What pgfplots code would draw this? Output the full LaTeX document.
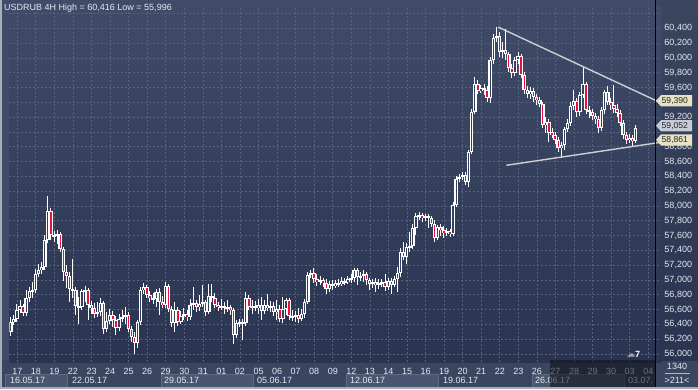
\documentclass[border=0pt]{standalone}
\usepackage{fontspec}
\setmainfont{Liberation Sans}
\usepackage{pgfplots}
\pgfplotsset{compat=1.18}
\usepackage{pgfplotstable}
\definecolor{bgtop}{HTML}{3F4B67}
\definecolor{bgbot}{HTML}{2A3450}
\definecolor{band}{HTML}{3A4560}
\definecolor{boxfill}{HTML}{4A5570}
\definecolor{boxline}{HTML}{5E6984}
\definecolor{gridc}{HTML}{56627E}
\definecolor{txt}{HTML}{E4E8F0}
\definecolor{candred}{HTML}{E8103C}
\definecolor{candin}{HTML}{34405C}
\definecolor{beige}{HTML}{E6E2C4}
\definecolor{callgray}{HTML}{C8CCD6}
\definecolor{framec}{HTML}{A8AEB8}
\definecolor{trend}{HTML}{CFCFD2}
\newcommand\fs{\fontsize{9bp}{10bp}\selectfont}
\pgfplotsset{candle/.style={only marks, mark=*, mark size=0.01pt, mark options={opacity=0},
  error bars/.cd, y dir=both, y explicit, error mark=none}}

\pgfplotstableread{
i o h l c
0 56293 56495 56239 56428
1 56428 56522 56387 56468
2 56468 56671 56428 56590
3 56590 56725 56549 56644
4 56644 56671 56509 56549
5 56549 56860 56509 56752
6 56752 56901 56698 56847
7 56847 56968 56752 56860
8 56860 57144 56820 57076
9 57076 57211 57036 57130
10 57130 57238 57076 57171
11 57171 57603 57130 57536
12 57536 58130 57495 57927
13 57927 57968 57536 57603
14 57603 57657 57509 57590
15 57590 57671 57482 57617
16 57617 57644 57373 57414
17 57414 57441 56982 57103
18 57103 57198 56887 57049
19 57049 57103 56698 56874
20 56874 57279 56752 56860
21 56860 56901 56522 56644
22 56644 56766 56401 56630
23 56630 56874 56590 56847
24 56847 56914 56698 56860
25 56860 56887 56455 56658
26 56658 56712 56536 56617
27 56617 56685 56482 56536
28 56536 56698 56495 56563
29 56563 56752 56509 56685
30 56685 56712 56266 56333
31 56333 56563 56293 56441
32 56441 56603 56401 56522
33 56522 56576 56360 56455
34 56455 56509 56252 56347
35 56347 56536 56306 56468
36 56468 56590 56428 56495
37 56495 56630 56401 56522
38 56522 56563 56293 56333
39 56333 56374 56158 56225
40 56225 56293 55996 56144
41 56144 56455 56077 56428
42 56428 56901 56387 56860
43 56860 56955 56806 56901
44 56901 56928 56752 56793
45 56793 56847 56698 56752
46 56752 56820 56671 56739
47 56739 56874 56630 56833
48 56833 56887 56522 56698
49 56698 56779 56617 56658
50 56658 56968 56617 56914
51 56914 56941 56563 56603
52 56603 56644 56360 56414
53 56414 56698 56293 56590
54 56590 56630 56374 56428
55 56428 56576 56401 56509
56 56509 56617 56455 56536
57 56536 56590 56441 56495
58 56495 56739 56455 56658
59 56658 56901 56590 56685
60 56685 56725 56563 56630
61 56630 56793 56576 56671
62 56671 56928 56630 56698
63 56698 56725 56509 56563
64 56563 56941 56536 56779
65 56779 56941 56698 56752
66 56752 56820 56617 56658
67 56658 56698 56576 56630
68 56630 56739 56590 56644
69 56644 56698 56536 56617
70 56617 56725 56563 56630
71 56630 56658 56522 56590
72 56590 56617 56131 56252
73 56252 56455 56212 56414
74 56414 56468 56360 56428
75 56428 56468 56185 56414
76 56414 56833 56374 56752
77 56752 56793 56590 56630
78 56630 56725 56536 56644
79 56644 56712 56576 56617
80 56617 56739 56536 56658
81 56658 56766 56455 56576
82 56576 56725 56536 56658
83 56658 56806 56576 56617
84 56617 56712 56563 56644
85 56644 56698 56509 56563
86 56563 56725 56455 56603
87 56603 56658 56428 56468
88 56468 56766 56414 56603
89 56603 56752 56522 56725
90 56725 56752 56455 56509
91 56509 56590 56441 56495
92 56495 56576 56428 56522
93 56522 56617 56414 56468
94 56468 56603 56441 56536
95 56536 56739 56482 56698
96 56698 57103 56671 57063
97 57063 57130 57022 57090
98 57090 57157 56955 57009
99 57009 57076 56914 56968
100 56968 57049 56928 56995
101 56995 57022 56901 56955
102 56955 57009 56806 56874
103 56874 56982 56833 56941
104 56941 56995 56860 56914
105 56914 56995 56887 56955
106 56955 57009 56901 56941
107 56941 57036 56914 56982
108 56982 57022 56928 56968
109 56968 57049 56941 57009
110 57009 57076 56955 57022
111 57022 57157 56968 57130
112 57130 57157 56928 57036
113 57036 57103 56982 57049
114 57049 57130 56968 57076
115 57076 57103 56928 56995
116 56995 57022 56860 56941
117 56941 57009 56887 56968
118 56968 57022 56833 56928
119 56928 57009 56874 56955
120 56955 57009 56901 56968
121 56968 57076 56847 56901
122 56901 57022 56860 56982
123 56982 57022 56806 56928
124 56928 57049 56901 57009
125 57009 57171 56833 57090
126 57090 57428 57036 57373
127 57373 57509 57265 57306
128 57306 57495 57211 57441
129 57441 57644 57373 57455
130 57455 57752 57414 57698
131 57698 57900 57603 57860
132 57860 57914 57806 57873
133 57873 57900 57779 57833
134 57833 57887 57792 57860
135 57860 57887 57698 57833
136 57833 57860 57711 57752
137 57752 57806 57509 57563
138 57563 57738 57536 57711
139 57711 57752 57590 57671
140 57671 57725 57563 57630
141 57630 57698 57590 57657
142 57657 57684 57576 57617
143 57617 58049 57590 58009
144 58009 58400 57982 58360
145 58360 58427 58319 58387
146 58387 58454 58346 58414
147 58414 58454 58279 58319
148 58319 58751 58252 58724
149 58724 59305 58697 59265
150 59265 59738 59238 59643
151 59643 59697 59508 59549
152 59549 59630 59522 59589
153 59589 59643 59495 59562
154 59562 59616 59400 59454
155 59454 60008 59386 59967
156 59967 60319 59913 60265
157 60265 60416 60211 60292
158 60292 60346 60008 60076
159 60076 60211 59994 60103
160 60103 60386 59967 60049
161 60049 60076 59805 59859
162 59859 59913 59724 59792
163 59792 60008 59751 59967
164 59967 60076 59913 60021
165 60021 60049 59724 59765
166 59765 59805 59508 59562
167 59562 59616 59454 59508
168 59508 59603 59441 59549
169 59549 59589 59400 59468
170 59468 59508 59359 59427
171 59427 59468 59332 59373
172 59373 59400 59049 59089
173 59089 59197 58981 59130
174 59130 59170 58859 58994
175 58994 59049 58914 58954
176 58954 58994 58832 58886
177 58886 58927 58724 58778
178 58778 58859 58643 58819
179 58819 59062 58751 59035
180 59035 59170 58994 59116
181 59116 59400 59076 59346
182 59346 59562 59292 59414
183 59414 59454 59197 59265
184 59265 59535 59211 59495
185 59495 59873 59454 59643
186 59643 59670 59238 59292
187 59292 59346 59184 59265
188 59265 59305 59157 59211
189 59211 59251 59103 59170
190 59170 59211 58981 59049
191 59049 59332 59008 59292
192 59292 59562 59238 59535
193 59535 59616 59359 59400
194 59400 59454 59292 59359
195 59359 59630 59251 59305
196 59305 59373 59197 59251
197 59251 59292 59076 59116
198 59116 59157 58900 58954
199 58954 58994 58832 58886
200 58886 58968 58846 58914
201 58914 58954 58792 58873
202 58873 59089 58846 59052
}\candles

\begin{document}
\begin{tikzpicture}[x=1bp,y=1bp]
\useasboundingbox (0,0) rectangle (698,389);
\fill[bgtop] (0,0) rectangle (698,389);
% panels
\fill[band] (0,0) rectangle (698,29);
\shade[top color=bgtop!92!black, bottom color=bgbot] (655,29) rectangle (698,389);
% week boxes
\foreach \a/\b in {5/67,161/253,346/438,532/624}{
  \fill[boxfill] (\a,2) rectangle (\b,15);
  \draw[boxline, line width=0.8bp] (\a,2) rectangle (\b,15);
}
\foreach \xx/\t in {10/16.05.17,72/22.05.17,164/29.05.17,257/05.06.17,350/12.06.17,443/19.06.17,535/26.06.17,628/03.07.}{
  \node[anchor=west, inner sep=0pt, text=txt, font=\fs] at (\xx,9) {\t};
}
% corner
\node[text=txt, font=\fs, inner sep=0pt] at (677,23) {1340};
\draw[txt!70!band, line width=0.8bp] (665,16) -- (690,16);
\node[text=txt, font=\fs, inner sep=0pt] at (677,9) {>211<};

\begin{axis}[
  at={(3,36)}, anchor=south west,
  scale only axis, width=652bp, height=357bp,
  xmin=-0.485, xmax=210.31, ymin=55887, ymax=60710,
  axis line style={draw=none},
  axis background/.style={top color=bgtop, bottom color=bgbot},
  xtick={2.1,8.1,...,206.2},
  xticklabels={17,18,19,22,23,24,25,26,29,30,31,01,02,05,06,07,08,09,12,13,14,15,16,19,20,21,22,23,26,27,28,29,30,03,04},
  ytick={56000,56200,56400,56600,56800,57000,57200,57400,57600,57800,58000,58200,58400,58600,58800,59200,59600,59800,60000,60200,60400},
  extra y ticks={59000,59400,60600}, extra y tick labels={},
  scaled y ticks=false, scaled x ticks=false,
  grid=major,
  major grid style={gridc, dash pattern=on 2bp off 2bp, line width=0.7bp},
  major tick length=0pt,
  yticklabel pos=right,
  /pgf/number format/.cd, fixed, precision=0, 1000 sep={,}, assume math mode=true,
  /pgfplots/.cd,
  xticklabel style={font=\fs, text=txt, inner sep=0pt, anchor=north, yshift=-5.5bp},
  yticklabel style={font=\fs, text=txt, inner sep=0pt, anchor=west, xshift=3bp},
]
% wicks
\addplot[candle, error bar style={line width=1bp, color=white}]
  table[x=i, y expr={(\thisrow{h}+\thisrow{l})/2}, y error expr={(\thisrow{h}-\thisrow{l})/2}] {\candles};
% body outlines
\addplot[candle, error bar style={line width=3.6bp, color=white}]
  table[x=i, y expr={(\thisrow{o}+\thisrow{c})/2}, y error expr={max(abs(\thisrow{c}-\thisrow{o})/2,10)}] {\candles};
% bearish inner
\addplot[candle, error bar style={line width=1.4bp, color=candred}]
  table[x=i, y expr={(\thisrow{o}+\thisrow{c})/2}, y error expr={max((\thisrow{o}-\thisrow{c})/2-13.5,0)}] {\candles};
% bullish inner
\addplot[candle, error bar style={line width=1.2bp, color=candin}]
  table[x=i, y expr={(\thisrow{o}+\thisrow{c})/2}, y error expr={max((\thisrow{c}-\thisrow{o})/2-13.5,0)}] {\candles};
% trend lines
\addplot[no marks, line width=1.4bp, color=trend] coordinates {(157.6,60416) (210.31,59390)};
\addplot[no marks, line width=1.4bp, color=trend] coordinates {(160.2,58549) (210.31,58861)};
\end{axis}

% dim overlay on time scale
\fill[black!80!band, opacity=0.55] (550,2) rectangle (655,29);
% separator
\draw[black, line width=1bp] (655.5,2) -- (655.5,389);
% callouts
\foreach \yy/\v/\col in {288.2/59{,}390/beige, 263.2/59{,}052/callgray, 249.1/58{,}861/beige}{
  \fill[\col] (656,\yy) -- (661,\yy+5.6) -- (692,\yy+5.6) -- (692,\yy-5.6) -- (661,\yy-5.6) -- cycle;
  \node[anchor=west, inner sep=0pt, font=\fontsize{8.6bp}{9bp}\selectfont, text=black!85] at (661.5,\yy) {\v};
}
% title
\node[anchor=west, inner sep=0pt, font=\fs, text=txt] at (4,381) {USDRUB 4H High = 60,416 Low = 55,996};
% marker 7
\fill[gray!70] (627,32.5) -- (635,32.5) -- (632,36) -- cycle;
\node[anchor=west, inner sep=0pt, font=\fs\bfseries, text=white] at (635,35) {7};
% frame
\fill[framec] (0,0) rectangle (2,389);
\fill[framec] (0,0) rectangle (698,2);
\end{tikzpicture}
\end{document}
